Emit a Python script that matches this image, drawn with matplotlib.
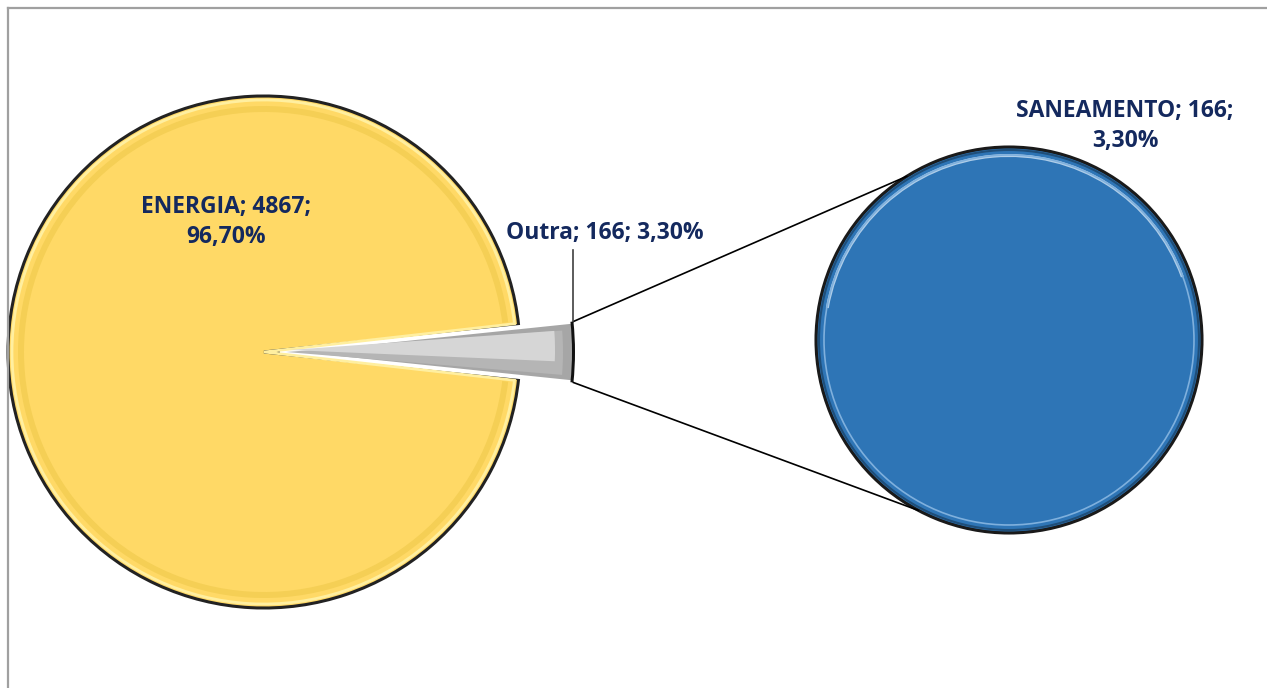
import matplotlib.pyplot as plt
from matplotlib.patches import Wedge
import numpy as np

# Data for the pie-of-pie chart
main_labels = ['ENERGIA', 'Outra']
main_values = [4867, 166]
main_pcts = ['96,70%', '3,30%']

sub_labels = ['SANEAMENTO']
sub_values = [166]
sub_pcts = ['3,30%']

text_color = '#14295E'
yellow = '#FFD966'
gray = '#A6A6A6'
blue = '#2E75B6'

plt.rcParams['font.family'] = ['Open Sans', 'DejaVu Sans']

fig = plt.figure(figsize=(12.67, 6.88), dpi=100)
ax = fig.add_axes([0, 0, 1, 1])
ax.set_aspect('equal')
ax.axis('off')

# frame of the chart area (only left and top edges are visible)
ax.plot([7.5, 7.5], [-10, 680], color='#A0A0A0', lw=1.6)
ax.plot([7.5, 1280], [680, 680], color='#A0A0A0', lw=1.6)

# Left pie: the "Outra" slice sits on the right side
left_center = (264, 336)
left_r = 256
outra_frac = main_values[1] / sum(main_values)
half = outra_frac * 360 / 2

wedges, _ = ax.pie(main_values, colors=[yellow, gray], startangle=half,
                   center=left_center, radius=left_r, frame=True,
                   wedgeprops=dict(edgecolor='#222222', linewidth=2.2))

# pull the small slice out and stretch it a bit like the original
outra = wedges[1]
outra.set_center((280, 336))
outra.set_radius(295)
outra.set_edgecolor('white')
outra.set_linewidth(3)

# bevel rings on the big slice
en = wedges[0]
ax.add_patch(Wedge(en.center, en.r - 10, en.theta1 + 1, en.theta2 - 1,
                   width=6, color='#F5CF55', lw=0))
ax.add_patch(Wedge(en.center, en.r - 4, en.theta1 + 0.5, en.theta2 - 0.5,
                   fill=False, edgecolor='#FFEFA0', lw=2.0))

# shading on the small slice
ocx, ocy = outra.center
ax.add_patch(Wedge((ocx + 6, ocy), outra.r - 18, outra.theta1 + 1.2, outra.theta2 - 1.5,
                   color='#B5B5B5', lw=0))
ax.add_patch(Wedge((ocx + 10, ocy + 2), outra.r - 30, outra.theta1 + 3.5, outra.theta2 - 1.8,
                   color='#D6D6D6', lw=0))
ax.add_patch(Wedge((ocx, ocy), outra.r, outra.theta1, outra.theta2, width=3,
                   color='#111111', lw=0))

# Right pie: the breakdown of "Outra"
right_center = (1009, 348)
right_r = 193
ax.pie(sub_values, colors=[blue], center=right_center, radius=right_r, frame=True,
       wedgeprops=dict(edgecolor='#1a1a1a', linewidth=2.2))
ax.add_patch(Wedge(right_center, right_r - 7, 20, 170, width=3, color='#BDD7EE', lw=0, alpha=0.9))
ax.add_patch(plt.Circle(right_center, right_r - 8, fill=False, edgecolor='#7FB0DD', lw=1.2))
ax.add_patch(plt.Circle(right_center, right_r - 3, fill=False, edgecolor='#1F4E79', lw=1.5))

ax.set_xlim(0, 1267)
ax.set_ylim(0, 688)

# connector lines between the slice corners and the right pie
t1 = np.deg2rad(outra.theta1)
t2 = np.deg2rad(outra.theta2)
top_corner = (ocx + outra.r * np.cos(t2), ocy + outra.r * np.sin(t2))
bot_corner = (ocx + outra.r * np.cos(t1), ocy + outra.r * np.sin(t1))
a_top = np.deg2rad(122)
a_bot = np.deg2rad(-118)
top_end = (right_center[0] + right_r * np.cos(a_top), right_center[1] + right_r * np.sin(a_top))
bot_end = (right_center[0] + right_r * np.cos(a_bot), right_center[1] + right_r * np.sin(a_bot))
ax.plot([top_corner[0], top_end[0]], [top_corner[1], top_end[1]], color='black', lw=1.2)
ax.plot([bot_corner[0], bot_end[0]], [bot_corner[1], bot_end[1]], color='black', lw=1.2)

# data labels
ax.text(226, 466, f'{main_labels[0]}; {main_values[0]};\n{main_pcts[0]}', ha='center', va='center',
        fontsize=16.5, fontweight='bold', color=text_color, linespacing=1.3)
ax.text(605, 455, f'{main_labels[1]}; {main_values[1]}; {main_pcts[1]}', ha='center', va='center',
        fontsize=16.5, fontweight='bold', color=text_color)
ax.plot([top_corner[0], top_corner[0]], [top_corner[1], 438], color='#404040', lw=1.2)
ax.text(1125, 562, f'{sub_labels[0]}; {sub_values[0]};\n{sub_pcts[0]}', ha='center', va='center',
        fontsize=16.5, fontweight='bold', color=text_color, linespacing=1.35)

plt.savefig('out.png', dpi=100)
